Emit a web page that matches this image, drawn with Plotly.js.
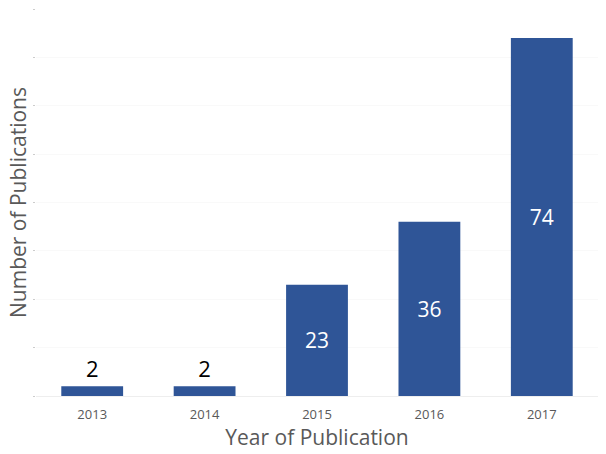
<!DOCTYPE html>
<html>
<head>
<meta charset="utf-8">
<script src="https://cdn.plot.ly/plotly-3.0.1.min.js"></script>
<style>body{margin:0;background:#fff}#chart{width:606px;height:454px}</style>
</head>
<body>
<div id="chart"></div>
<script>
// publications per year
var years = ["2013", "2014", "2015", "2016", "2017"];
var counts = [2, 2, 23, 36, 74];

var trace = {
    x: years,
    y: counts,
    type: "bar",
    text: counts.map(String),
    textposition: "auto",
    insidetextanchor: "middle",
    insidetextfont: {color: "#ffffff", size: 21, family: "Open Sans"},
    outsidetextfont: {color: "#000000", size: 22, family: "Open Sans"},
    marker: {color: "#2F5597"},
    hoverinfo: "none"
};

var layout = {
    width: 606,
    height: 454,
    margin: {l: 36, r: 8, t: 9, b: 58},
    paper_bgcolor: "#fff",
    plot_bgcolor: "#fff",
    bargap: 0.45,
    showlegend: false,
    font: {family: "Open Sans", color: "#595959"},
    xaxis: {
        title: {text: "Year of Publication", font: {size: 21, color: "#595959"}, standoff: 6},
        tickfont: {size: 13, color: "#595959"},
        showline: true,
        linecolor: "#eeeeee",
        ticks: "outside",
        ticklen: 6,
        tickcolor: "rgba(0,0,0,0)"
    },
    yaxis: {
        title: {text: "Number of Publications", font: {size: 21, color: "#595959"}, standoff: 0},
        range: [0, 80],
        dtick: 10,
        showticklabels: false,
        ticks: "outside",
        ticklen: 2,
        tickcolor: "#cccccc",
        gridcolor: "#f9f9f9",
        zeroline: false
    }
};

Plotly.newPlot("chart", [trace], layout, {displayModeBar: false});
</script>
</body>
</html>
